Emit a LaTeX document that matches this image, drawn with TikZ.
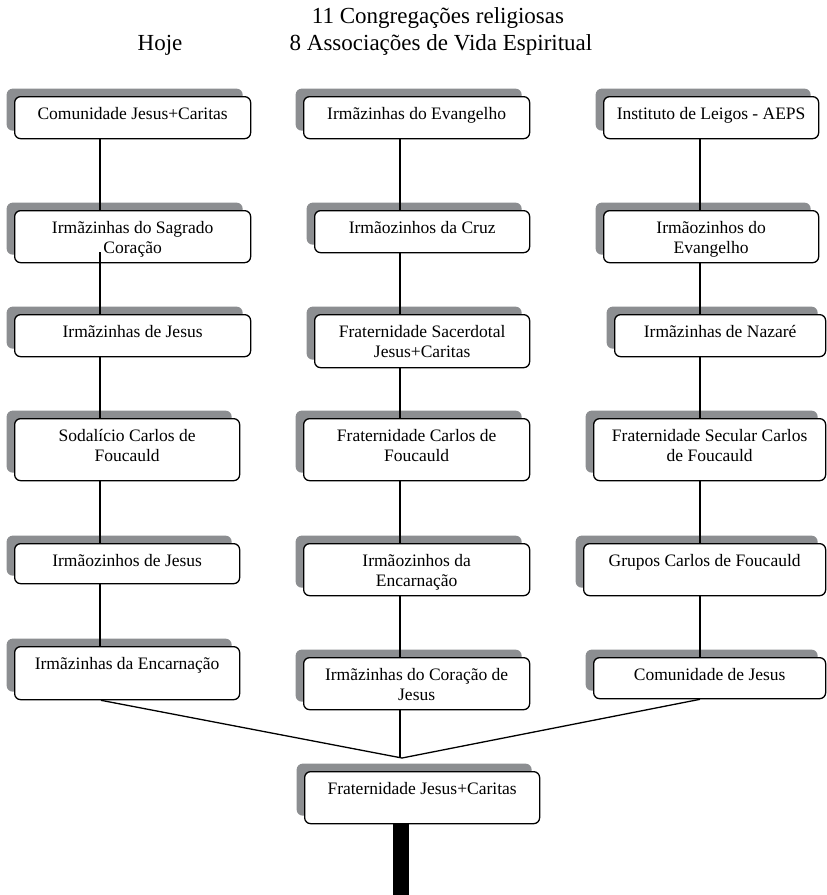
\documentclass[tikz,border=0pt]{standalone}
\usepackage{fontspec}
\setmainfont{Liberation Serif}
\usetikzlibrary{shadows}
\definecolor{shadowgray}{HTML}{8C8E91}
\newcommand\bt[3]{\parbox[c][#2pt][t]{#1pt}{\centering\vspace*{9pt}\strut #3\par}}
\tikzset{
  bx/.style={draw=black, fill=white, line width=1.3pt, rounded corners=6pt,
    inner sep=0pt, anchor=north west,
    font=\fontsize{17.5}{20}\selectfont,
    general shadow={fill=shadowgray, shadow xshift=-8pt, shadow yshift=8pt}},
  ttl/.style={font=\fontsize{23}{27}\selectfont, inner sep=0pt, anchor=base},
  conn/.style={draw=black, line width=1.3pt}
}
\begin{document}
\begin{tikzpicture}[x=1pt,y=-1pt]
\useasboundingbox (0,0) rectangle (827,895);
% titles
\node[ttl] (t1) at (438,23) {11 Congregações religiosas};
\node[ttl] (t2) at (441,50) {8 Associações de Vida Espiritual};
\node[ttl] (hoje) at (160,50) {Hoje};
% column guide coordinates
\coordinate (l1) at (100,0);
\coordinate (l2) at (400,0);
\coordinate (l3) at (700,0);
% column 1
\node[bx] (a1) at (14,96)  {\bt{236}{42}{Comunidade Jesus+Caritas}};
\node[bx] (a2) at (14,210) {\bt{236}{52}{Irmãzinhas do Sagrado\\Coração}};
\node[bx] (a3) at (14,314) {\bt{236}{42}{Irmãzinhas de Jesus}};
\node[bx] (a4) at (14,418) {\bt{225}{62}{Sodalício Carlos de\\Foucauld}};
\node[bx] (a5) at (14,543) {\bt{225}{40}{Irmãozinhos de Jesus}};
\node[bx] (a6) at (14,646) {\bt{225}{53}{Irmãzinhas da Encarnação}};
% column 2
\node[bx] (b1) at (303,96)  {\bt{226}{42}{Irmãzinhas do Evangelho}};
\node[bx] (b2) at (314,210) {\bt{215}{42}{Irmãozinhos da Cruz}};
\node[bx] (b3) at (314,314) {\bt{215}{53}{Fraternidade Sacerdotal\\Jesus+Caritas}};
\node[bx] (b4) at (303,418) {\bt{226}{62}{Fraternidade Carlos de\\Foucauld}};
\node[bx] (b5) at (303,543) {\bt{226}{52}{Irmãozinhos da\\Encarnação}};
\node[bx] (b6) at (303,657) {\bt{226}{52}{Irmãzinhas do Coração de\\Jesus}};
% column 3
\node[bx] (c1) at (603,96)  {\bt{215}{42}{Instituto de Leigos - AEPS}};
\node[bx] (c2) at (603,210) {\bt{215}{52}{Irmãozinhos do\\Evangelho}};
\node[bx] (c3) at (614,314) {\bt{211}{42}{Irmãzinhas de Nazaré}};
\node[bx] (c4) at (593,418) {\bt{232}{62}{Fraternidade Secular Carlos\\de Foucauld}};
\node[bx] (c5) at (583,543) {\bt{242}{52}{Grupos Carlos de Foucauld}};
\node[bx] (c6) at (593,657) {\bt{232}{41}{Comunidade de Jesus}};
% root
\node[bx] (f) at (304,771) {\bt{235}{52}{Fraternidade Jesus+Caritas}};
% connectors column 1
\coordinate (a2in) at (100,252);
\draw[conn] (a1.south -| l1) -- (a2.north -| l1);
\draw[conn] (a2in) -- (a3.north -| l1);
\draw[conn] (a3.south -| l1) -- (a4.north -| l1);
\draw[conn] (a4.south -| l1) -- (a5.north -| l1);
\draw[conn] (a5.south -| l1) -- (a6.north -| l1);
% connectors column 2
\draw[conn] (b1.south -| l2) -- (b2.north -| l2);
\draw[conn] (b2.south -| l2) -- (b3.north -| l2);
\draw[conn] (b3.south -| l2) -- (b4.north -| l2);
\draw[conn] (b4.south -| l2) -- (b5.north -| l2);
\draw[conn] (b5.south -| l2) -- (b6.north -| l2);
% connectors column 3
\draw[conn] (c1.south -| l3) -- (c2.north -| l3);
\draw[conn] (c2.south -| l3) -- (c3.north -| l3);
\draw[conn] (c3.south -| l3) -- (c4.north -| l3);
\draw[conn] (c4.south -| l3) -- (c5.north -| l3);
\draw[conn] (c5.south -| l3) -- (c6.north -| l3);
% merge
\coordinate (j) at (402,758);
\coordinate (jl) at (101,0);
\draw[conn] (a6.south -| jl) -- (j);
\draw[conn] (c6.south -| l3) -- (j);
\draw[conn] (b6.south -| l2) -- (j -| l2);
% trunk
\coordinate (root) at (401,895);
\draw[line width=16pt] (f.south -| root) -- (root);
\end{tikzpicture}
\end{document}
